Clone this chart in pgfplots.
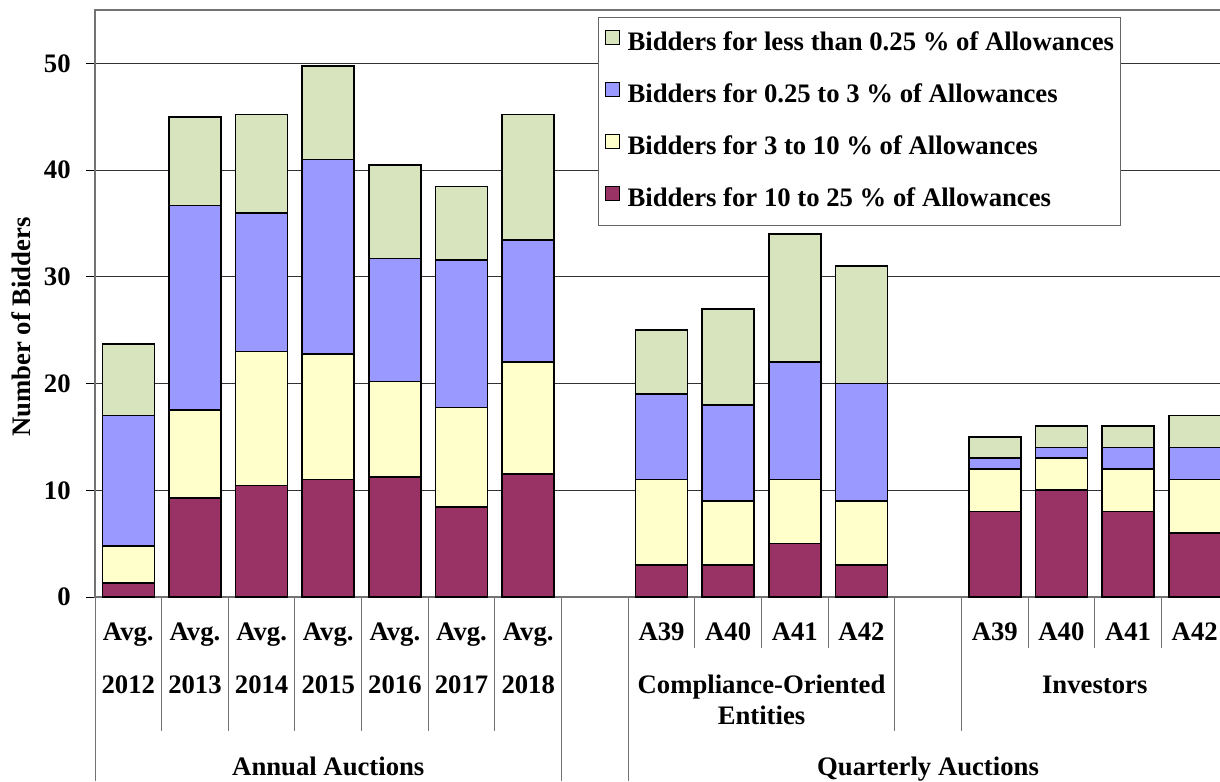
\documentclass[border=0pt]{standalone}
\usepackage{fontspec}
\setmainfont{Liberation Serif}
\usepackage{pgfplots}
\usepackage{pgfplotstable}
\pgfplotsset{compat=1.18}

\definecolor{segA}{HTML}{993366}
\definecolor{segB}{HTML}{FFFFCC}
\definecolor{segC}{HTML}{9999FF}
\definecolor{segD}{HTML}{D7E4BD}

\newcommand{\lbl}{\fontsize{13.4}{16}\selectfont\bfseries}

% x: slot index (7 annual, gap, 4 compliance, gap, 4 investors)
% m: 10-25%, y: 3-10%, b: 0.25-3%, g: <0.25%
\pgfplotstableread{
x   m      y      b      g
0   1.3    3.5    12.2   6.7
1   9.25   8.25   19.2   8.3
2   10.45  12.55  13.0   9.2
3   11.0   11.75  18.25  8.75
4   11.25  8.95   11.5   8.75
5   8.45   9.3    13.8   6.9
6   11.5   10.5   11.45  11.75
8   3      8      8      6
9   3      6      9      9
10  5      6      11     12
11  3      6      11     11
13  8      4      1      2
14  10     3      1      2
15  8      4      2      2
16  6      5      3      3
}\bids

\begin{document}
\begin{tikzpicture}
  \begin{axis}[
    at={(0,0)}, anchor=south west,
    scale only axis, width=566.5bp, height=293.5bp,
    xmin=-0.5, xmax=16.5, ymin=0, ymax=55,
    ybar stacked, bar width=0.78,
    axis line style={black!55, line width=0.6bp},
    ytick={0,10,20,30,40,50},
    ymajorgrids, grid style={black!80, line width=0.5bp},
    ytick pos=left, tick align=outside,
    major tick length=4.5bp,
    ytick style={black, line width=0.5bp},
    xtick={0,1,2,3,4,5,6,8,9,10,11,13,14,15,16},
    xticklabels={Avg.,Avg.,Avg.,Avg.,Avg.,Avg.,Avg.,A39,A40,A41,A42,A39,A40,A41,A42},
    xtick style={draw=none},
    xticklabel style={anchor=base, yshift=-17bp},
    yticklabel style={anchor=east, inner sep=0pt, xshift=-7.5bp},
    tick label style={font=\lbl},
    /pgf/number format/assume math mode=true,
    ylabel={Number of Bidders},
    ylabel style={font=\lbl, at={(axis description cs:-0.0655,0.46)}, anchor=center},
    legend image code/.code={\draw[#1, draw=black, line width=0.5bp] (0bp,-0.5bp) rectangle (7bp,6.5bp);},
    reverse legend,
    legend cell align=left,
    legend style={at={(0.444,0.988)}, anchor=north west,
                  draw=black!60, line width=0.5bp, fill=white,
                  inner xsep=3bp, inner ysep=6.25bp,
                  row sep=12.75bp, column sep=4bp,
                  nodes={inner sep=0pt, text height=10bp, text depth=3bp},
                  font=\lbl},
  ]
    \addplot[fill=segA, draw=black, line width=0.8bp] table[x=x, y=m]{\bids};
    \addlegendentry{Bidders for 10 to 25 \% of Allowances}
    \addplot[fill=segB, draw=black, line width=0.8bp] table[x=x, y=y]{\bids};
    \addlegendentry{Bidders for 3 to 10 \% of Allowances}
    \addplot[fill=segC, draw=black, line width=0.8bp] table[x=x, y=b]{\bids};
    \addlegendentry{Bidders for 0.25 to 3 \% of Allowances}
    \addplot[fill=segD, draw=black, line width=0.8bp] table[x=x, y=g]{\bids};
    \addlegendentry{Bidders for less than 0.25 \% of Allowances}
  \end{axis}

  % multi-level category axis, in pixel units of the reference
  \begin{scope}[x=0.5bp, y=-0.5bp, shift={(-47.5bp,298.5bp)}]
    \foreach \k in {0,7,8}
      \draw[black!55, line width=0.5bp] ({95+66.65*\k},597) -- ({95+66.65*\k},781);
    \foreach \k in {1,2,3,4,5,6,12,13}
      \draw[black!55, line width=0.5bp] ({95+66.65*\k},597) -- ({95+66.65*\k},731);
    \foreach \k in {9,10,11,14,15,16}
      \draw[black!55, line width=0.5bp] ({95+66.65*\k},597) -- ({95+66.65*\k},648);
    \foreach \k/\yr in {0/2012,1/2013,2/2014,3/2015,4/2016,5/2017,6/2018}
      \node[font=\lbl, anchor=base] at ({95+66.65*(\k+0.5)},693) {\yr};
    \node[font=\lbl, anchor=base] at (761.5,693) {Compliance-Oriented};
    \node[font=\lbl, anchor=base] at (761.5,724) {Entities};
    \node[font=\lbl, anchor=base] at (1094.75,693) {Investors};
    \node[font=\lbl, anchor=base] at (328.3,775) {Annual Auctions};
    \node[font=\lbl, anchor=base] at (928,775) {Quarterly Auctions};
    \pgfresetboundingbox
    \path (0,0) rectangle (1220,781);
  \end{scope}
\end{tikzpicture}
\end{document}
